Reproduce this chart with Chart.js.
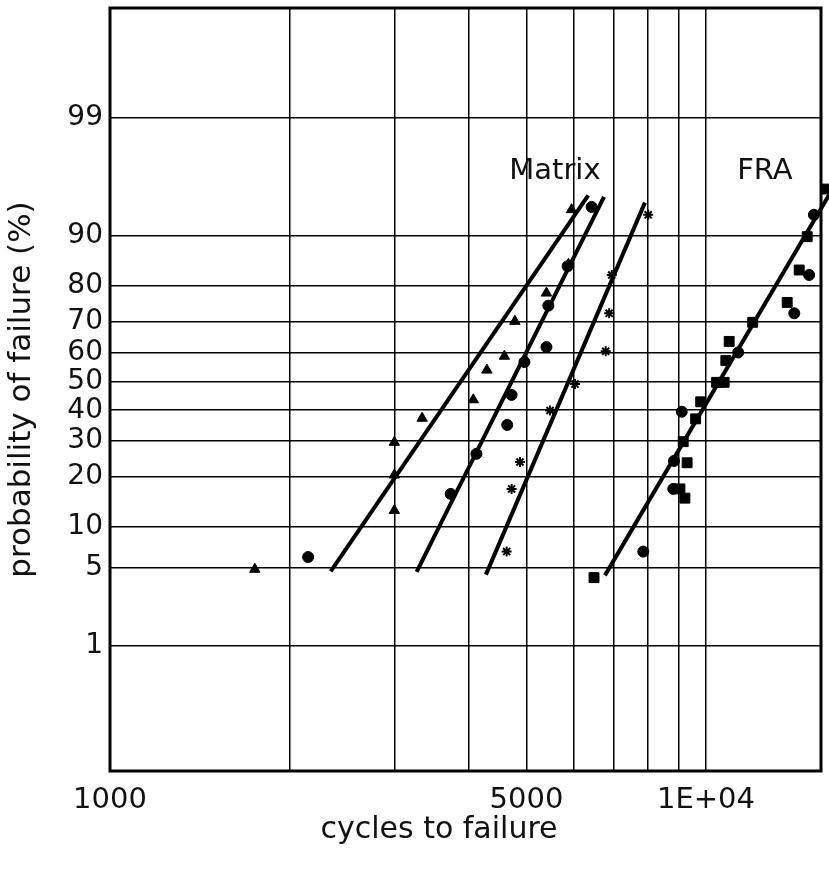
<!DOCTYPE html>
<html>
<head>
<meta charset="utf-8">
<script src="https://cdn.jsdelivr.net/npm/chart.js@4.4.0/dist/chart.umd.min.js"></script>
<style>
  body { margin: 0; background: #fff; }
  #wrap { width: 829px; height: 878px; }
</style>
</head>
<body>
<div id="wrap"><canvas id="chart" width="829" height="878"></canvas></div>
<script>
// axis ticks
const xGridCycles = [1000, 2000, 3000, 4000, 5000, 6000, 7000, 8000, 9000, 10000];
const xLabelCycles = [1000, 5000, 10000];
const xLabelTexts = ["1000", "5000", "1E+04"];
const yTickPct = [1, 5, 10, 20, 30, 40, 50, 60, 70, 80, 90, 99];
const xMin = 1000, xMax = 15600;
const yMinPct = 0.03, yMaxPct = 99.95;

// Matrix - triangles
const triCycles = [1750, 3000, 3000, 3000, 3340, 4070, 4290, 4590, 4780, 5400, 5880, 5950];
const triPct = [4.9, 12.8, 20.5, 29.6, 37.3, 43.6, 54.0, 58.8, 70.2, 78.2, 84.9, 93.5];

// Matrix - circles
const dotCycles = [2150, 3730, 4120, 4640, 4720, 4960, 5400, 5440, 5860, 6430];
const dotPct = [6.1, 16.1, 26.2, 35.1, 45.3, 56.8, 61.9, 74.8, 84.5, 93.8];

// Matrix - asterisks
const starCycles = [4630, 4720, 4875, 5475, 6030, 6790, 6880, 6950, 8000];
const starPct = [6.7, 17.2, 23.9, 39.9, 49.1, 60.5, 72.6, 82.6, 92.9];

// FRA - squares
const fraSqCycles = [6490, 9045, 9220, 9300, 9160, 9610, 9800, 10420, 10730, 10800, 10940, 11980, 13690, 14340, 14790, 15980];
const fraSqPct = [4.2, 17.2, 15.2, 23.7, 29.8, 37.1, 42.9, 49.7, 49.7, 57.3, 63.8, 69.9, 75.7, 83.7, 89.9, 95.5];

// FRA - circles
const fraDotCycles = [7850, 8815, 8840, 9110, 11330, 14070, 14900, 15180];
const fraDotPct = [6.7, 17.2, 24.2, 39.5, 60.1, 72.6, 82.6, 92.9];

// fitted lines (end points)
const fitACycles = [2346, 6346], fitAPct = [4.72, 94.95];
const fitBCycles = [3270, 6745], fitBPct = [4.67, 94.8];
const fitCCycles = [4274, 7900], fitCPct = [4.44, 94.25];
const fitFraCycles = [6769, 16100], fitFraPct = [4.38, 95.0];

// group labels
const groupNames = ["Matrix", "FRA"];
const groupCycles = [5580, 12560];
const groupPct = [96.8, 96.8];

// inverse normal CDF (Acklam)
function probit(p) {
  const a = [-3.969683028665376e+01, 2.209460984245205e+02, -2.759285104469687e+02, 1.383577518672690e+02, -3.066479806614716e+01, 2.506628277459239e+00];
  const b = [-5.447609879822406e+01, 1.615858368580409e+02, -1.556989798598866e+02, 6.680131188771972e+01, -1.328068155288572e+01];
  const c = [-7.784894002430293e-03, -3.223964580411365e-01, -2.400758277161838e+00, -2.549732539343734e+00, 4.374664141464968e+00, 2.938163982698783e+00];
  const d = [7.784695709041462e-03, 3.224671290700398e-01, 2.445134137142996e+00, 3.754408661907416e+00];
  const pl = 0.02425;
  let q, r;
  if (p < pl) {
    q = Math.sqrt(-2 * Math.log(p));
    return (((((c[0]*q+c[1])*q+c[2])*q+c[3])*q+c[4])*q+c[5]) / ((((d[0]*q+d[1])*q+d[2])*q+d[3])*q+1);
  }
  if (p > 1 - pl) {
    q = Math.sqrt(-2 * Math.log(1 - p));
    return -(((((c[0]*q+c[1])*q+c[2])*q+c[3])*q+c[4])*q+c[5]) / ((((d[0]*q+d[1])*q+d[2])*q+d[3])*q+1);
  }
  q = p - 0.5; r = q * q;
  return (((((a[0]*r+a[1])*r+a[2])*r+a[3])*r+a[4])*r+a[5])*q / (((((b[0]*r+b[1])*r+b[2])*r+b[3])*r+b[4])*r+1);
}

const toPoints = (xs, ps) => xs.map((x, i) => ({ x: x, y: probit(ps[i] / 100) }));

const FONT = "'DejaVu Sans', sans-serif";
const INK = "#000";

function markers(xs, ps, style, radius) {
  return {
    type: "scatter",
    data: toPoints(xs, ps),
    pointStyle: style,
    pointRadius: radius,
    pointBackgroundColor: INK,
    pointBorderColor: INK,
    pointBorderWidth: style === "star" ? 2 : 1,
    showLine: false,
    clip: false,
  };
}

function fitLine(xs, ps) {
  return {
    type: "line",
    data: toPoints(xs, ps),
    borderColor: INK,
    borderWidth: 4,
    pointRadius: 0,
    fill: false,
    tension: 0,
    clip: false,
  };
}

// frame, x title and group labels
const extras = {
  id: "extras",
  afterDraw(chart) {
    const { ctx, chartArea: a, scales } = chart;
    ctx.save();
    ctx.strokeStyle = INK;
    ctx.lineWidth = 3;
    ctx.strokeRect(a.left, a.top, a.right - a.left, a.bottom - a.top);
    ctx.fillStyle = "#111";
    ctx.font = "29px " + FONT;
    ctx.textAlign = "center";
    ctx.textBaseline = "middle";
    groupNames.forEach((name, i) => {
      ctx.fillText(name, scales.x.getPixelForValue(groupCycles[i]), scales.y.getPixelForValue(probit(groupPct[i] / 100)));
    });
    ctx.font = "30px " + FONT;
    ctx.fillText("cycles to failure", 439, 830);
    ctx.restore();
  },
};

new Chart(document.getElementById("chart"), {
  data: {
    datasets: [
      fitLine(fitACycles, fitAPct),
      fitLine(fitBCycles, fitBPct),
      fitLine(fitCCycles, fitCPct),
      fitLine(fitFraCycles, fitFraPct),
      markers(triCycles, triPct, "triangle", 6),
      markers(dotCycles, dotPct, "circle", 5.5),
      markers(starCycles, starPct, "star", 5),
      markers(fraSqCycles, fraSqPct, "rect", 7),
      markers(fraDotCycles, fraDotPct, "circle", 5.5),
    ],
  },
  options: {
    responsive: false,
    animation: false,
    layout: { padding: { top: 8, right: 8, left: 0, bottom: 0 } },
    plugins: { legend: { display: false }, tooltip: { enabled: false } },
    scales: {
      x: {
        type: "logarithmic",
        min: xMin,
        max: xMax,
        afterBuildTicks: axis => { axis.ticks = xGridCycles.map(v => ({ value: v })); },
        afterFit: axis => { axis.height = 107; axis.paddingLeft = 0; axis.paddingRight = 0; },
        grid: { color: INK, lineWidth: 1.5, drawTicks: false },
        border: { display: false },
        ticks: {
          autoSkip: false,
          maxRotation: 0,
          padding: 12,
          color: "#111",
          font: { family: FONT, size: 29 },
          callback: v => {
            const i = xLabelCycles.indexOf(v);
            return i >= 0 ? xLabelTexts[i] : "";
          },
        },
      },
      y: {
        type: "linear",
        min: probit(yMinPct / 100),
        max: probit(yMaxPct / 100),
        afterBuildTicks: axis => { axis.ticks = yTickPct.map(p => ({ value: probit(p / 100) })); },
        afterFit: axis => { axis.width = 110; axis.paddingTop = 0; axis.paddingBottom = 0; },
        grid: { color: INK, lineWidth: 1.5, drawTicks: false },
        border: { display: false },
        ticks: {
          autoSkip: false,
          padding: 7,
          color: "#111",
          font: { family: FONT, size: 28 },
          callback: (v, i) => String(yTickPct[i]),
        },
        title: {
          display: true,
          text: "probability of failure (%)",
          color: "#111",
          font: { family: FONT, size: 31 },
          padding: { top: 3, bottom: 0 },
        },
      },
    },
  },
  plugins: [extras],
});
</script>
</body>
</html>
